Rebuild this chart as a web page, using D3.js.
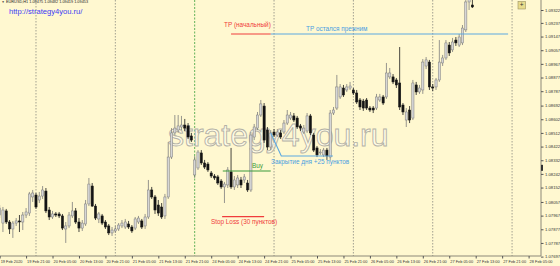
<!DOCTYPE html>
<html>
<head>
<meta charset="utf-8">
<script src="https://cdn.jsdelivr.net/npm/d3@7/dist/d3.min.js"></script>
<style>
  body { margin: 0; background: #fff8d0; }
  svg { display: block; }
  text { font-family: "Liberation Sans", Arial, sans-serif; }
</style>
</head>
<body>
<svg width="560" height="266"></svg>
<script>
// EURUSD H1, 19 Feb 2020 13:00 .. 27 Feb 2020 13:00 (bar index 0..144)
const opens = [
  1.07971, 1.07918, 1.07998, 1.07925, 1.07879, 1.07918, 1.07932, 1.07925, 1.07971, 1.07984,
  1.08090, 1.08103, 1.08070, 1.08096, 1.08129, 1.08004, 1.07958, 1.07978, 1.07978, 1.07965,
  1.07879, 1.07899, 1.07965, 1.07998, 1.07925, 1.07885, 1.07912, 1.08044, 1.08162, 1.08030,
  1.07945, 1.07965, 1.07925, 1.07899, 1.07853, 1.07866, 1.07879, 1.07899, 1.07892, 1.07912,
  1.07892, 1.07885, 1.07925, 1.07932, 1.07899, 1.07958, 1.08136, 1.08090, 1.08037, 1.08024,
  1.07965, 1.08090, 1.08353, 1.08512, 1.08531, 1.08551, 1.08564, 1.08558, 1.08492, 1.08235,
  1.08281, 1.08380, 1.08314, 1.08307, 1.08248, 1.08228, 1.08222, 1.08195, 1.08156, 1.08169,
  1.08255, 1.08156, 1.08169, 1.08202, 1.08202, 1.08182, 1.08136, 1.08485, 1.08544, 1.08630,
  1.08689, 1.08531, 1.08419, 1.08518, 1.08498, 1.08512, 1.08518, 1.08577, 1.08610, 1.08624,
  1.08610, 1.08558, 1.08518, 1.08525, 1.08624, 1.08498, 1.08413, 1.08380, 1.08367, 1.08399,
  1.08353, 1.08643, 1.08676, 1.08749, 1.08808, 1.08795, 1.08808, 1.08795, 1.08775, 1.08729,
  1.08722, 1.08729, 1.08676, 1.08676, 1.08676, 1.08729, 1.08749, 1.08749, 1.08881, 1.08881,
  1.08861, 1.08841, 1.08696, 1.08597, 1.08663, 1.08610, 1.08828, 1.08782, 1.08795, 1.08953,
  1.08979, 1.08815, 1.08815, 1.08861, 1.08973, 1.09006, 1.09091, 1.09059, 1.09124, 1.09091,
  1.09105, 1.09191, 1.09375, 1.09355, 1.09475
];
const highs = [
  1.08037, 1.08024, 1.08011, 1.07938, 1.07932, 1.07951, 1.07971, 1.07991, 1.08017, 1.08123,
  1.08136, 1.08116, 1.08123, 1.08162, 1.08149, 1.08024, 1.07998, 1.07991, 1.07991, 1.07978,
  1.07925, 1.07991, 1.08057, 1.08017, 1.07951, 1.07938, 1.08070, 1.08215, 1.08182, 1.08044,
  1.07991, 1.07978, 1.07938, 1.07912, 1.07892, 1.07899, 1.07918, 1.07938, 1.07945, 1.07932,
  1.07905, 1.07958, 1.07965, 1.07945, 1.07978, 1.08202, 1.08156, 1.08103, 1.08070, 1.08050,
  1.08110, 1.08452, 1.08544, 1.08630, 1.08630, 1.08624, 1.08604, 1.08577, 1.08512, 1.08360,
  1.08399, 1.08399, 1.08334, 1.08320, 1.08261, 1.08241, 1.08235, 1.08208, 1.08189, 1.08287,
  1.08413, 1.08228, 1.08235, 1.08222, 1.08241, 1.08202, 1.08518, 1.08571, 1.08650, 1.08729,
  1.08709, 1.08551, 1.08531, 1.08538, 1.08538, 1.08531, 1.08597, 1.08663, 1.08650, 1.08643,
  1.08624, 1.08571, 1.08564, 1.08643, 1.08637, 1.08512, 1.08426, 1.08406, 1.08413, 1.08413,
  1.08663, 1.08683, 1.08894, 1.08834, 1.08828, 1.08834, 1.08848, 1.08808, 1.08795, 1.08742,
  1.08736, 1.08742, 1.08689, 1.08689, 1.08769, 1.08769, 1.08762, 1.08973, 1.08940, 1.08900,
  1.08874, 1.09078, 1.08709, 1.08676, 1.08689, 1.08861, 1.08848, 1.08828, 1.08999, 1.09012,
  1.08993, 1.08834, 1.08874, 1.09124, 1.09026, 1.09124, 1.09111, 1.09138, 1.09144, 1.09164,
  1.09223, 1.09421, 1.09441, 1.09454, 1.09482
];
const lows = [
  1.07951, 1.07859, 1.07912, 1.07846, 1.07820, 1.07899, 1.07859, 1.07872, 1.07951, 1.07965,
  1.08057, 1.08011, 1.08050, 1.08077, 1.07984, 1.07938, 1.07945, 1.07958, 1.07951, 1.07872,
  1.07787, 1.07885, 1.07951, 1.07912, 1.07859, 1.07866, 1.07899, 1.08030, 1.08024, 1.07938,
  1.07918, 1.07905, 1.07879, 1.07839, 1.07833, 1.07853, 1.07866, 1.07885, 1.07879, 1.07879,
  1.07853, 1.07872, 1.07912, 1.07879, 1.07879, 1.07945, 1.08077, 1.07978, 1.07965, 1.07945,
  1.07945, 1.08077, 1.08340, 1.08498, 1.08512, 1.08531, 1.08525, 1.08472, 1.08452, 1.08215,
  1.08268, 1.08301, 1.08274, 1.08255, 1.08215, 1.08202, 1.08169, 1.08143, 1.08050, 1.08149,
  1.08143, 1.08136, 1.08149, 1.08149, 1.08182, 1.08123, 1.08123, 1.08465, 1.08531, 1.08617,
  1.08446, 1.08399, 1.08399, 1.08485, 1.08485, 1.08472, 1.08505, 1.08564, 1.08597, 1.08584,
  1.08538, 1.08525, 1.08505, 1.08512, 1.08498, 1.08386, 1.08353, 1.08367, 1.08353, 1.08334,
  1.08334, 1.08630, 1.08663, 1.08736, 1.08749, 1.08782, 1.08795, 1.08762, 1.08703, 1.08663,
  1.08657, 1.08663, 1.08650, 1.08643, 1.08663, 1.08716, 1.08696, 1.08736, 1.08867, 1.08834,
  1.08808, 1.08663, 1.08630, 1.08551, 1.08577, 1.08597, 1.08762, 1.08769, 1.08769, 1.08933,
  1.08795, 1.08788, 1.08795, 1.08848, 1.08953, 1.08993, 1.09019, 1.09045, 1.09085, 1.09078,
  1.09091, 1.09177, 1.09322, 1.09335, 1.09419
];
const closes = [
  1.08017, 1.08004, 1.07925, 1.07879, 1.07918, 1.07932, 1.07925, 1.07971, 1.07991, 1.08110,
  1.08116, 1.08024, 1.08096, 1.08136, 1.07998, 1.07958, 1.07978, 1.07971, 1.07965, 1.07885,
  1.07899, 1.07971, 1.07998, 1.07925, 1.07885, 1.07918, 1.08044, 1.08175, 1.08030, 1.07951,
  1.07978, 1.07918, 1.07892, 1.07853, 1.07872, 1.07879, 1.07905, 1.07918, 1.07925, 1.07892,
  1.07866, 1.07945, 1.07951, 1.07892, 1.07958, 1.08136, 1.08090, 1.08004, 1.07984, 1.07958,
  1.08090, 1.08353, 1.08512, 1.08544, 1.08558, 1.08564, 1.08544, 1.08485, 1.08465, 1.08334,
  1.08386, 1.08314, 1.08287, 1.08268, 1.08228, 1.08215, 1.08182, 1.08156, 1.08175, 1.08268,
  1.08156, 1.08202, 1.08215, 1.08169, 1.08222, 1.08136, 1.08498, 1.08551, 1.08630, 1.08703,
  1.08465, 1.08419, 1.08512, 1.08498, 1.08518, 1.08485, 1.08577, 1.08630, 1.08630, 1.08597,
  1.08551, 1.08544, 1.08544, 1.08624, 1.08512, 1.08399, 1.08367, 1.08386, 1.08399, 1.08360,
  1.08643, 1.08663, 1.08815, 1.08815, 1.08762, 1.08815, 1.08821, 1.08775, 1.08716, 1.08683,
  1.08676, 1.08676, 1.08663, 1.08663, 1.08749, 1.08749, 1.08709, 1.08907, 1.08907, 1.08848,
  1.08828, 1.08683, 1.08650, 1.08650, 1.08597, 1.08841, 1.08782, 1.08808, 1.08979, 1.08993,
  1.08815, 1.08808, 1.08861, 1.08979, 1.09006, 1.09105, 1.09039, 1.09111, 1.09105, 1.09144,
  1.09203, 1.09375, 1.09421, 1.09342, 1.09453
];

// right price scale labels
const priceTicks = [1.09322, 1.09237, 1.09147, 1.09057, 1.08967, 1.08877, 1.08787, 1.08692, 1.08602, 1.08512,
  1.08422, 1.08332, 1.08242, 1.08152, 1.08057, 1.07967, 1.07877, 1.07787, 1.07697];

// time scale labels (bar index -> label)
const timeTickBars = [0, 8, 16, 24, 32, 40, 48, 56, 64, 72, 80, 88, 96, 104, 112, 120, 128, 136, 144, 152, 160];
const timeTickLabels = ["19 Feb 2020", "19 Feb 21:00", "20 Feb 05:00", "20 Feb 13:00", "20 Feb 21:00",
  "21 Feb 05:00", "21 Feb 13:00", "21 Feb 21:00", "24 Feb 05:00", "24 Feb 13:00", "24 Feb 21:00",
  "25 Feb 05:00", "25 Feb 13:00", "25 Feb 21:00", "26 Feb 05:00", "26 Feb 13:00", "26 Feb 21:00",
  "27 Feb 05:00", "27 Feb 13:00", "27 Feb 21:00", "28 Feb 05:00"];

// day separators (bar index of 00:00)
const daySeparators = [11, 35, 83, 107, 131, 155];
const vLineBar = 59; // green vertical line, 24 Feb 00:00

// trade levels
const tpPrice = 1.09164;
const buyPrice = 1.08261;
const slPrice = 1.07961;
const closeDayPrice = 1.08511;
const closeDayLow = 1.08360;

const levelLines = [
  { from: 70, to: 82, price: tpPrice, color: "#f03c3c" },
  { from: 82, to: 153.8, price: tpPrice, color: "#5ca8e0" },
  { from: 67.5, to: 82, price: buyPrice, color: "#3a9a3a" },
  { from: 67.3, to: 80, price: slPrice, color: "#f03c3c" }
];
const closeDayPath = [[82, closeDayPrice], [85.2, closeDayLow], [100.8, closeDayLow]];

const labels = [
  { bar: 67.9, price: 1.09210, text: "TP (начальный)", color: "#f03c3c" },
  { bar: 92.7, price: 1.09182, text: "TP остался прежним", color: "#4a9ee0" },
  { bar: 76.3, price: 1.08281, text: "Buy", color: "#3a9a3a" },
  { bar: 82.1, price: 1.08307, text: "Закрытие дня +25 пунктов", color: "#4a9ee0" },
  { bar: 63.9, price: 1.07912, text: "Stop Loss (30 пунктов)", color: "#f03c3c" }
];

const symbolTitle = "EURUSD,H1";
const siteUrl = "http://strategy4you.ru/";
const watermark = "strategy4you.ru";

const plotRight = 541;
const plotBottom = 256;

const svg = d3.select('svg');

const x = d3.scaleLinear()
  .domain([0, 144])
  .range([-0.37, 475.7]);

const y = d3.scaleLinear()
  .domain([1.07697, 1.09322])
  .range([256.6, 10]);

svg.append('rect')
  .attr('width', 560).attr('height', 266)
  .attr('fill', '#fff8d0');

svg.append('clipPath').attr('id', 'plot')
  .append('rect')
  .attr('width', plotRight).attr('height', plotBottom);

const plot = svg.append('g').attr('clip-path', 'url(#plot)');

// day separators
plot.selectAll('.sep')
  .data(daySeparators)
  .enter()
  .append('line')
  .attr('x1', (d) => x(d)).attr('x2', (d) => x(d))
  .attr('y1', 0).attr('y2', plotBottom)
  .attr('stroke', '#8a8a80')
  .attr('stroke-width', 0.8)
  .attr('stroke-dasharray', '1.5,1.5');

plot.append('line')
  .attr('x1', x(vLineBar)).attr('x2', x(vLineBar))
  .attr('y1', 0).attr('y2', plotBottom)
  .attr('stroke', '#3aa03a')
  .attr('stroke-width', 0.8)
  .attr('stroke-dasharray', '2,1.5');

// watermark
plot.append('text')
  .attr('x', 168)
  .attr('y', 146)
  .attr('font-size', 32)
  .attr('fill', 'rgba(255,255,255,0.45)')
  .attr('stroke', '#b3b1a6')
  .attr('stroke-width', 0.9)
  .text(watermark);

// candles
const candles = closes.map((c, i) => ({ i, o: opens[i], h: highs[i], l: lows[i], c }));
const bull = (d) => d.c >= d.o;

plot.selectAll('.wick')
  .data(candles)
  .enter()
  .append('line')
  .attr('x1', (d) => x(d.i)).attr('x2', (d) => x(d.i))
  .attr('y1', (d) => y(d.h)).attr('y2', (d) => y(d.l))
  .attr('stroke', (d) => bull(d) ? '#7c7c7c' : '#1a1a1a')
  .attr('stroke-width', 0.8);

plot.selectAll('.body')
  .data(candles)
  .enter()
  .append('rect')
  .attr('x', (d) => x(d.i) - 1.1)
  .attr('y', (d) => y(Math.max(d.o, d.c)))
  .attr('width', 2.2)
  .attr('height', (d) => Math.max(Math.abs(y(d.o) - y(d.c)), 0.8))
  .attr('fill', (d) => bull(d) ? '#d6d6d6' : '#141414')
  .attr('stroke', (d) => bull(d) ? '#7c7c7c' : '#141414')
  .attr('stroke-width', 0.5);

// trade level lines
plot.selectAll('.level')
  .data(levelLines)
  .enter()
  .append('line')
  .attr('x1', (d) => x(d.from)).attr('x2', (d) => x(d.to))
  .attr('y1', (d) => y(d.price)).attr('y2', (d) => y(d.price))
  .attr('stroke', (d) => d.color)
  .attr('stroke-width', 1.2);

plot.append('path')
  .attr('d', d3.line().x((d) => x(d[0])).y((d) => y(d[1]))(closeDayPath))
  .attr('fill', 'none')
  .attr('stroke', '#5ca8e0')
  .attr('stroke-width', 1.1);

plot.selectAll('.lbl')
  .data(labels)
  .enter()
  .append('text')
  .attr('x', (d) => x(d.bar))
  .attr('y', (d) => y(d.price))
  .attr('font-size', 6.4)
  .attr('fill', (d) => d.color)
  .text((d) => d.text);

// frame
svg.append('line')
  .attr('x1', plotRight).attr('x2', plotRight)
  .attr('y1', 0).attr('y2', plotBottom)
  .attr('stroke', '#8c8878');
svg.append('line')
  .attr('x1', 0).attr('x2', plotRight)
  .attr('y1', plotBottom).attr('y2', plotBottom)
  .attr('stroke', '#8c8878');

// price axis
const yAxis = svg.append('g')
  .attr('transform', `translate(${plotRight}, 0)`)
  .call(d3.axisRight(y).tickValues(priceTicks).tickFormat(d3.format('.5f')).tickSize(2.5).tickPadding(1.5));
yAxis.select('.domain').remove();
yAxis.selectAll('line').attr('stroke', '#555');
yAxis.selectAll('text')
  .attr('font-size', 4.2)
  .attr('fill', '#333')
  .style('font-family', '"Liberation Sans", Arial, sans-serif');

// time axis
const xAxis = svg.append('g')
  .attr('transform', `translate(0, ${plotBottom})`)
  .call(d3.axisBottom(x).tickValues(timeTickBars)
    .tickFormat((d, i) => timeTickLabels[i]).tickSize(2.5).tickPadding(1.5));
xAxis.select('.domain').remove();
xAxis.selectAll('line').attr('stroke', '#555');
xAxis.selectAll('text')
  .attr('font-size', 3.9)
  .attr('fill', '#333')
  .attr('text-anchor', 'start')
  .attr('dx', 0.5)
  .style('font-family', '"Liberation Sans", Arial, sans-serif');

// last-price mark on the price scale
svg.append('rect')
  .attr('x', plotRight)
  .attr('y', y(1.08282) - 3)
  .attr('width', 2)
  .attr('height', 6)
  .attr('fill', '#333');

// header
const last = candles[candles.length - 1];
svg.append('text')
  .attr('x', 1.5).attr('y', 3.4)
  .attr('font-size', 3.2)
  .attr('fill', '#333')
  .text('▼');
svg.append('text')
  .attr('x', 6).attr('y', 3.4)
  .attr('font-size', 3.85)
  .attr('fill', '#222')
  .text([symbolTitle, last.o, last.h, last.l, last.c].map((v) => typeof v === 'number' ? v.toFixed(5) : v).join(' '));

svg.append('text')
  .attr('x', 9).attr('y', 13.5)
  .attr('font-size', 7.6)
  .attr('fill', '#3b3bf5')
  .text(siteUrl);

// chart shift button
svg.append('rect')
  .attr('x', 518).attr('y', 1.5)
  .attr('width', 7.5).attr('height', 7.5)
  .attr('fill', '#e8dc8c')
  .attr('stroke', '#9a9060')
  .attr('stroke-width', 0.6);
svg.append('text')
  .attr('x', 521.75).attr('y', 7.4)
  .attr('text-anchor', 'middle')
  .attr('font-size', 6.5)
  .attr('fill', '#333')
  .text('+');
</script>
</body>
</html>
